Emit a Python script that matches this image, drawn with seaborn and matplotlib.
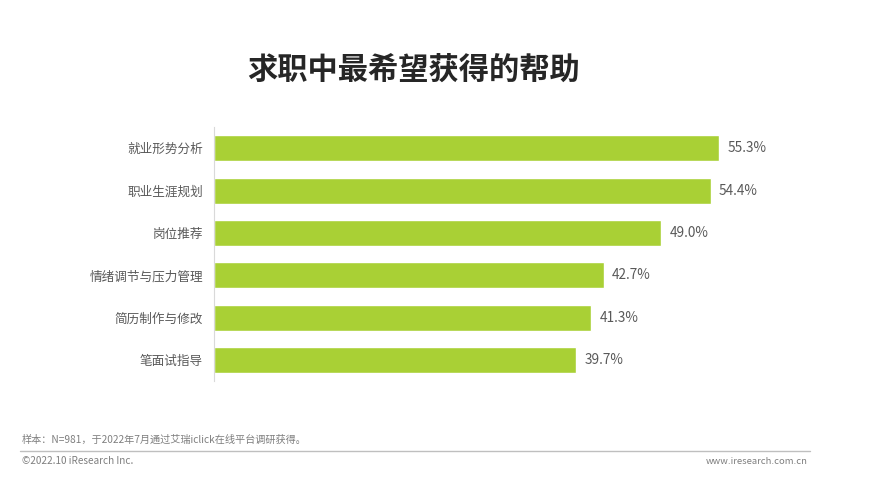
import matplotlib
matplotlib.use("Agg")
import matplotlib.pyplot as plt
import seaborn as sns
import pandas as pd

categories = ["就业形势分析", "职业生涯规划", "岗位推荐", "情绪调节与压力管理", "简历制作与修改", "笔面试指导"]
values = [55.3, 54.4, 49.0, 42.7, 41.3, 39.7]
title = "求职中最希望获得的帮助"
note = "样本：N=981，于2022年7月通过艾瑞iclick在线平台调研获得。"
copyright_text = "©2022.10 iResearch Inc."
website = "www.iresearch.com.cn"

sns.set_theme(style="white")
plt.rcParams['font.family'] = ['Noto Sans CJK SC', 'DejaVu Sans']

df = pd.DataFrame({"cat": categories, "val": values})

W, H = 885, 486
fig = plt.figure(figsize=(W / 100, H / 100), dpi=100)
ax = fig.add_axes([214 / W, 1 - 381.4 / H, 586 / W, 254.4 / H])

sns.barplot(data=df, x="val", y="cat", color="#A9D035", saturation=1, width=0.61, ax=ax, orient="h")
ax.set_xlim(0, 586 / 9.13)
ax.set_ylim(5.5, -0.5)
ax.set_xlabel("")
ax.set_ylabel("")
ax.set_xticks([])
for s in ["top", "right", "bottom"]:
    ax.spines[s].set_visible(False)
ax.spines["left"].set_color("#D9D9D9")
ax.spines["left"].set_linewidth(0.8)
ax.tick_params(axis="y", length=0, pad=8, labelsize=9.1, labelcolor="#595959")

for i, v in enumerate(values):
    ax.text(v + 0.9, i, f"{v:.1f}%", va="center", ha="left", fontsize=9.8, color="#595959")

fig.text(414 / W, 1 - 70 / H, title, ha="center", va="center", fontsize=21.8, fontweight="bold", color="#262626")
fig.text(22 / W, 1 - 440 / H, note, ha="left", va="center", fontsize=7.3, color="#7F7F7F")
fig.add_artist(plt.Line2D([20 / W, 810 / W], [1 - 451 / H, 1 - 451 / H], color="#BFBFBF", linewidth=1, transform=fig.transFigure))
fig.text(22 / W, 1 - 461 / H, copyright_text, ha="left", va="center", fontsize=7.2, color="#7F7F7F")
fig.text(808 / W, 1 - 461 / H, website, ha="right", va="center", fontsize=6.8, color="#7F7F7F")

fig.savefig("out.png", dpi=100)
